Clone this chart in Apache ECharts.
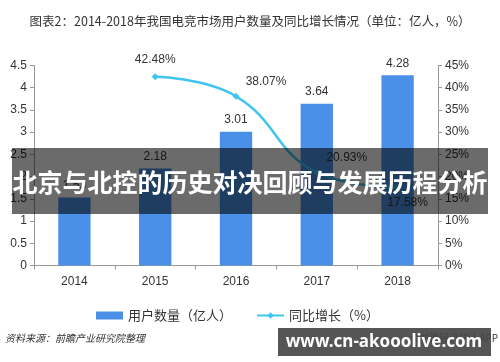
<!DOCTYPE html>
<html>
<head>
<meta charset="utf-8">
<script src="https://cdn.jsdelivr.net/npm/echarts@6/dist/echarts.min.js"></script>
<style>html,body{margin:0;padding:0;background:#fff;}#c{width:500px;height:362px;}</style>
</head>
<body>
<div id="c"></div>
<script>
var categories = ['2014', '2015', '2016', '2017', '2018'];
var users = [1.53, 2.18, 3.01, 3.64, 4.28];
var growth = [null, 42.48, 38.07, 20.93, 17.58];
var leftTicks = [0, 4.5, 0.5];
var rightTicks = [0, 45, 5];
var titleText = '图表2：2014-2018年我国电竞市场用户数量及同比增长情况（单位：亿人，%）';
var bannerText = '北京与北控的历史对决回顾与发展历程分析';
var sourceText = '资料来源：前瞻产业研究院整理';
var siteText = 'www.cn-akooolive.com';

var labelOffsets = [[0,0],[0,-2],[30,1],[30,1],[10,0]];
var labelPos = ['top','top','top','top','bottom'];
var font = '"Noto Sans CJK SC", "Noto Sans", sans-serif';
var chart = echarts.init(document.getElementById('c'));
chart.setOption({
  animation: false,
  textStyle: {fontFamily: font},
  title: {
    text: titleText, left: 'center', top: 10,
    textStyle: {fontSize: 12.5, fontWeight: 'normal', color: '#333', fontFamily: font}
  },
  grid: {left: 34, right: 62, top: 65.5, bottom: 96.5},
  legend: {
    left: 91, top: 304, itemWidth: 27, itemHeight: 8, itemGap: 24,
    textStyle: {fontSize: 13, color: '#333', fontFamily: font},
    data: [{name: '用户数量（亿人）', icon: 'rect'}, {name: '同比增长（%）'}]
  },
  xAxis: {
    type: 'category', data: categories,
    axisLine: {lineStyle: {color: '#999'}},
    axisTick: {show: true, length: 4, lineStyle: {color: '#999'}},
    axisLabel: {fontSize: 12, color: '#333', margin: 10, fontFamily: '"Liberation Sans", sans-serif'}
  },
  yAxis: [{
    type: 'value', min: leftTicks[0], max: leftTicks[1], interval: leftTicks[2],
    splitLine: {show: false},
    axisLine: {show: true, lineStyle: {color: '#999'}},
    axisTick: {show: true, length: 4, lineStyle: {color: '#999'}},
    axisLabel: {fontSize: 12, color: '#333', margin: 7, fontFamily: '"Liberation Sans", sans-serif'}
  }, {
    type: 'value', min: rightTicks[0], max: rightTicks[1], interval: rightTicks[2],
    splitLine: {show: false},
    axisLine: {show: true, lineStyle: {color: '#999'}},
    axisTick: {show: true, length: 4, lineStyle: {color: '#999'}},
    axisLabel: {fontSize: 12, color: '#333', margin: 7, formatter: '{value}%', fontFamily: '"Liberation Sans", sans-serif'}
  }],
  series: [{
    name: '用户数量（亿人）', type: 'bar', data: users, barWidth: '40%',
    itemStyle: {color: '#4a8fe8'},
    label: {show: true, position: 'top', fontSize: 12, color: '#333', distance: 6, fontFamily: '"Liberation Sans", sans-serif'}
  }, {
    name: '同比增长（%）', type: 'line', yAxisIndex: 1, smooth: 0.45,
    data: growth.map(function (v, i) {
      return {value: v, label: {offset: labelOffsets[i], position: labelPos[i]}};
    }),
    symbol: 'diamond', symbolSize: 7,
    lineStyle: {color: '#3fc5f0', width: 2.5},
    itemStyle: {color: '#3fc5f0'},
    label: {show: true, position: 'top', fontSize: 12, color: '#333', distance: 6,
      formatter: function (p) { return p.value.toFixed(2) + '%'; },
      fontFamily: '"Liberation Sans", sans-serif'}
  }],
  graphic: [
    {type: 'text', left: 5, top: 333, z: 10,
      style: {text: sourceText, fill: '#333', font: 'italic 10px "Noto Sans CJK SC"'}},
    {type: 'text', right: 2, top: 333, z: 10,
      style: {text: '@前瞻经济学人APP', fill: '#333', font: '10px "Noto Sans CJK SC"'}},
    {type: 'rect', shape: {x: 12, y: 148, width: 476, height: 66}, z: 100,
      style: {fill: 'rgba(0,0,0,0.58)'}},
    {type: 'text', z: 101, x: 250, y: 182,
      style: {text: bannerText, fill: '#fff', align: 'center', verticalAlign: 'middle',
        font: 'bold 25px "Noto Sans CJK SC"'}},
    {type: 'rect', shape: {x: 278, y: 328, width: 213, height: 28}, z: 100,
      style: {fill: 'rgba(70,70,70,0.92)'}},
    {type: 'text', z: 101, x: 384, y: 342,
      style: {text: siteText, fill: '#fff', align: 'center', verticalAlign: 'middle',
        font: 'bold 17px "Noto Sans", sans-serif'}}
  ]
});
</script>
</body>
</html>
